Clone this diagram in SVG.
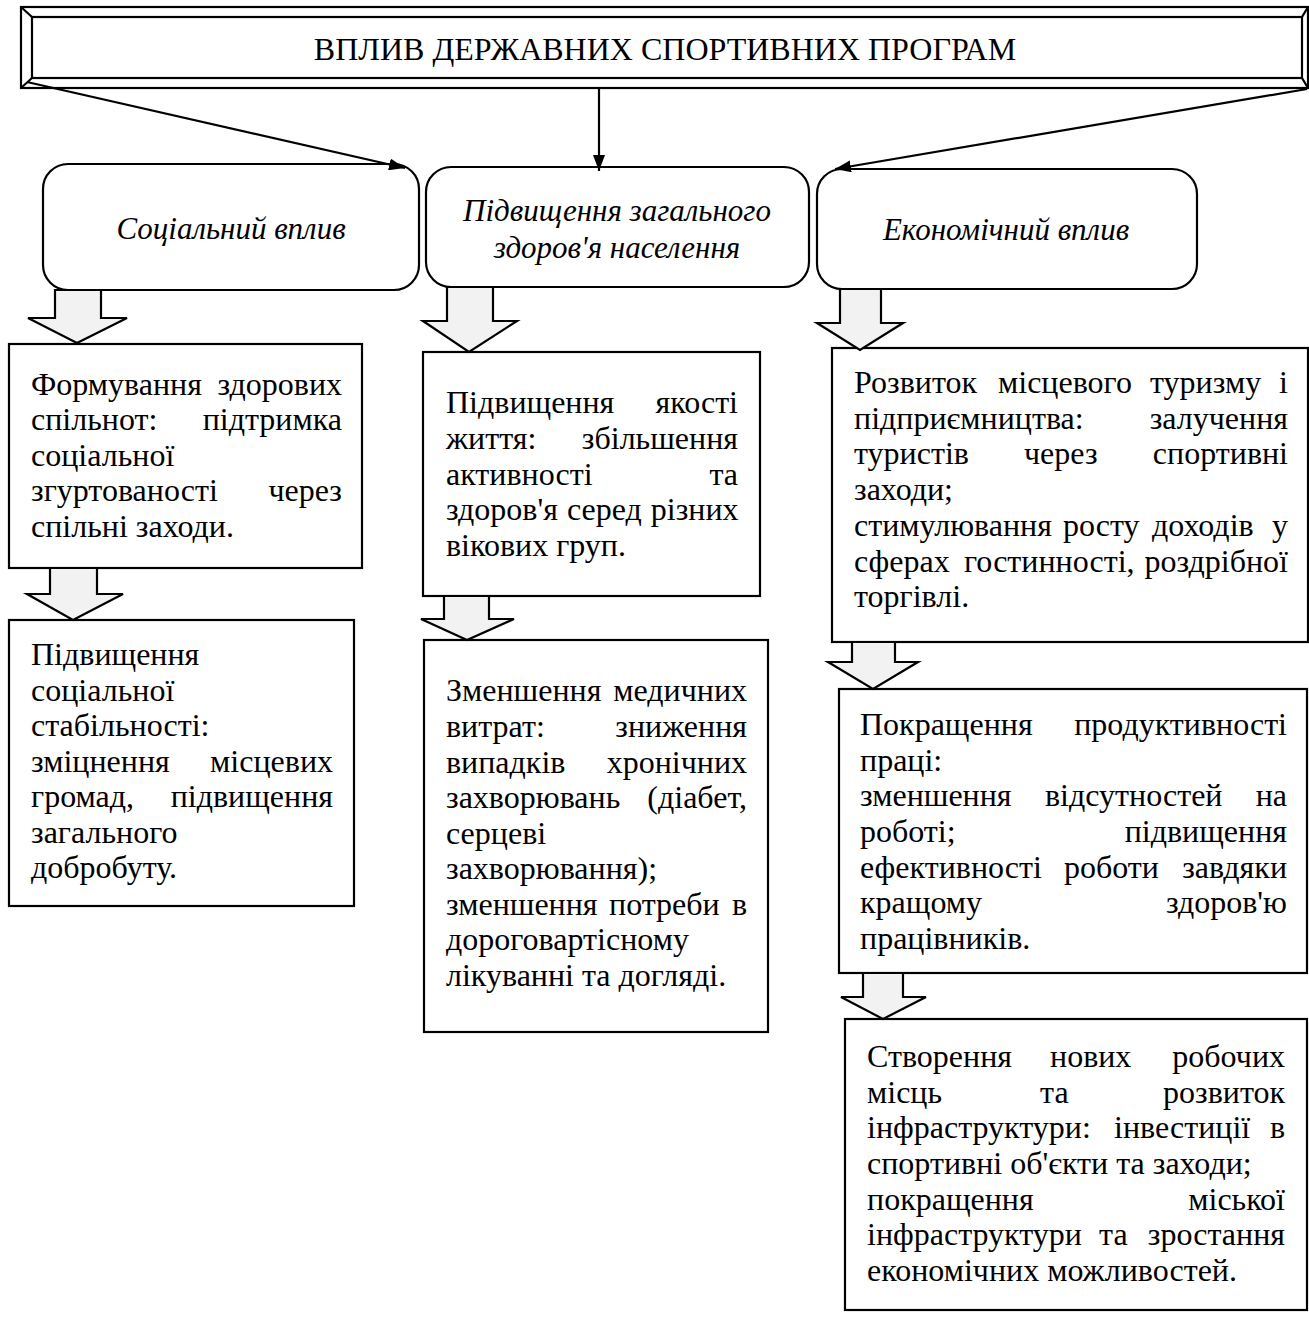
<svg xmlns="http://www.w3.org/2000/svg" width="1309" height="1320" viewBox="0 0 1309 1320">
<style>
.t{font-family:"Liberation Serif","Times New Roman",serif;font-size:32px;fill:#000}
.it{font-family:"Liberation Serif","Times New Roman",serif;font-size:31px;font-style:italic;fill:#000}
.e{text-anchor:end}
.box{fill:#fff;stroke:#000;stroke-width:2.2}
.ba{fill:#f2f2f2;stroke:#000;stroke-width:2.2;stroke-linejoin:miter}
.ln{stroke:#000;stroke-width:2.2;fill:none}
</style>
<defs>
<marker id="ah" viewBox="0 0 16 12" refX="16" refY="6" markerWidth="16" markerHeight="12" markerUnits="userSpaceOnUse" orient="auto">
<path d="M0,0 L16,6 L0,12 Z" fill="#000"/>
</marker>
</defs>
<rect width="1309" height="1320" fill="#fff"/>

<g id="banner">
<rect x="21" y="7" width="1287" height="81" fill="#fff" stroke="#000" stroke-width="2.2"/>
<rect x="32" y="17" width="1270" height="61" fill="none" stroke="#000" stroke-width="2.2"/>
<path class="ln" d="M21,7 L32,17 M21,88 L32,78 M1308,7 L1302,17 M1308,88 L1302,78"/>
<text class="t" x="665" y="60" text-anchor="middle">ВПЛИВ ДЕРЖАВНИХ СПОРТИВНИХ ПРОГРАМ</text>
</g>

<g id="social">
<rect class="box" x="43" y="164" width="376" height="126" rx="25"/>
<text class="it" x="231" y="239" text-anchor="middle">Соціальний вплив</text>
</g>
<g id="health">
<rect class="box" x="426" y="167" width="383" height="120" rx="25"/>
<text class="it" x="617" y="221" text-anchor="middle">Підвищення загального</text>
<text class="it" x="617" y="258" text-anchor="middle">здоров'я населення</text>
</g>
<g id="economic">
<rect class="box" x="817" y="169" width="380" height="120" rx="25"/>
<text class="it" x="1006" y="240" text-anchor="middle">Економічний вплив</text>
</g>

<g id="a1">
<rect class="box" x="9" y="344" width="353" height="224"/>
<text class="t" x="31" y="395">Формування</text><text class="t e" x="342" y="395">здорових</text>
<text class="t" x="31" y="430">спільнот:</text><text class="t e" x="342" y="430">підтримка</text>
<text class="t" x="31" y="466">соціальної</text>
<text class="t" x="31" y="501">згуртованості</text><text class="t e" x="342" y="501">через</text>
<text class="t" x="31" y="537">спільні заходи.</text>
</g>
<g id="a2">
<rect class="box" x="9" y="620" width="345" height="286"/>
<text class="t" x="31" y="665">Підвищення</text>
<text class="t" x="31" y="701">соціальної</text>
<text class="t" x="31" y="736">стабільності:</text>
<text class="t" x="31" y="772">зміцнення</text><text class="t e" x="333" y="772">місцевих</text>
<text class="t" x="31" y="807">громад,</text><text class="t e" x="333" y="807">підвищення</text>
<text class="t" x="31" y="843">загального</text>
<text class="t" x="31" y="878">добробуту.</text>
</g>

<g id="b1">
<rect class="box" x="423" y="352" width="337" height="244"/>
<text class="t" x="446" y="413">Підвищення</text><text class="t e" x="738" y="413">якості</text>
<text class="t" x="446" y="449">життя:</text><text class="t e" x="738" y="449">збільшення</text>
<text class="t" x="446" y="485">активності</text><text class="t e" x="738" y="485">та</text>
<text class="t" x="446" y="520" word-spacing="1">здоров'я серед різних</text>
<text class="t" x="446" y="556">вікових груп.</text>
</g>
<g id="b2">
<rect class="box" x="424" y="640" width="344" height="392"/>
<text class="t" x="446" y="701">Зменшення</text><text class="t e" x="747" y="701">медичних</text>
<text class="t" x="446" y="737">витрат:</text><text class="t e" x="747" y="737">зниження</text>
<text class="t" x="446" y="773">випадків</text><text class="t e" x="747" y="773">хронічних</text>
<text class="t" x="446" y="808">захворювань</text><text class="t e" x="747" y="808">(діабет,</text>
<text class="t" x="446" y="844">серцеві</text>
<text class="t" x="446" y="879">захворювання);</text>
<text class="t" x="446" y="915">зменшення</text><text class="t" x="609" y="915">потреби</text><text class="t e" x="747" y="915">в</text>
<text class="t" x="446" y="950">дороговартісному</text>
<text class="t" x="446" y="986">лікуванні та догляді.</text>
</g>

<g id="c1">
<rect class="box" x="832" y="348" width="476" height="294"/>
<text class="t" x="854" y="393">Розвиток</text><text class="t" x="998" y="393">місцевого</text><text class="t" x="1150" y="393">туризму</text><text class="t e" x="1288" y="393">і</text>
<text class="t" x="854" y="429">підприємництва:</text><text class="t e" x="1288" y="429">залучення</text>
<text class="t" x="854" y="464">туристів</text><text class="t" x="1024" y="464">через</text><text class="t e" x="1288" y="464">спортивні</text>
<text class="t" x="854" y="500">заходи;</text>
<text class="t" x="854" y="536">стимулювання</text><text class="t" x="1063" y="536">росту</text><text class="t" x="1152" y="536">доходів</text><text class="t e" x="1288" y="536">у</text>
<text class="t" x="854" y="572">сферах</text><text class="t" x="964" y="572">гостинності,</text><text class="t e" x="1288" y="572">роздрібної</text>
<text class="t" x="854" y="607">торгівлі.</text>
</g>
<g id="c2">
<rect class="box" x="839" y="689" width="468" height="284"/>
<text class="t" x="860" y="735">Покращення</text><text class="t e" x="1287" y="735">продуктивності</text>
<text class="t" x="860" y="771">праці:</text>
<text class="t" x="860" y="806">зменшення</text><text class="t" x="1045" y="806">відсутностей</text><text class="t e" x="1287" y="806">на</text>
<text class="t" x="860" y="842">роботі;</text><text class="t e" x="1287" y="842">підвищення</text>
<text class="t" x="860" y="878">ефективності</text><text class="t" x="1064" y="878">роботи</text><text class="t e" x="1287" y="878">завдяки</text>
<text class="t" x="860" y="913">кращому</text><text class="t e" x="1287" y="913">здоров'ю</text>
<text class="t" x="860" y="949">працівників.</text>
</g>
<g id="c3">
<rect class="box" x="845" y="1019" width="462" height="291"/>
<text class="t" x="867" y="1067">Створення</text><text class="t" x="1050" y="1067">нових</text><text class="t e" x="1285" y="1067">робочих</text>
<text class="t" x="867" y="1103">місць</text><text class="t" x="1040" y="1103">та</text><text class="t e" x="1285" y="1103">розвиток</text>
<text class="t" x="867" y="1138">інфраструктури:</text><text class="t" x="1114" y="1138">інвестиції</text><text class="t e" x="1285" y="1138">в</text>
<text class="t" x="867" y="1174">спортивні об'єкти та заходи;</text>
<text class="t" x="867" y="1210">покращення</text><text class="t e" x="1285" y="1210">міської</text>
<text class="t" x="867" y="1245">інфраструктури</text><text class="t" x="1099" y="1245">та</text><text class="t e" x="1285" y="1245">зростання</text>
<text class="t" x="867" y="1281">економічних можливостей.</text>
</g>

<g id="connectors">
<line class="ln" x1="27" y1="82" x2="405" y2="168" marker-end="url(#ah)"/>
<line class="ln" x1="599" y1="88" x2="599" y2="171" marker-end="url(#ah)"/>
<line class="ln" x1="1307" y1="89" x2="835" y2="169" marker-end="url(#ah)"/>
<path class="ba" d="M55,290 H101 V318 H127 L77,343 L28,318 H55 Z"/>
<path class="ba" d="M447,287 H493 V321 H517 L469,352 L423,321 H447 Z"/>
<path class="ba" d="M840,289 H881 V323 H903 L860,350 L817,323 H840 Z"/>
<path class="ba" d="M50,568 H97 V594 H123 L73,620 L27,594 H50 Z"/>
<path class="ba" d="M444,596 H489 V619 H514 L467,640 L421,619 H444 Z"/>
<path class="ba" d="M852,642 H895 V662 H918 L873,689 L828,662 H852 Z"/>
<path class="ba" d="M863,973 H903 V997 H926 L883,1019 L841,997 H863 Z"/>
</g>
</svg>
